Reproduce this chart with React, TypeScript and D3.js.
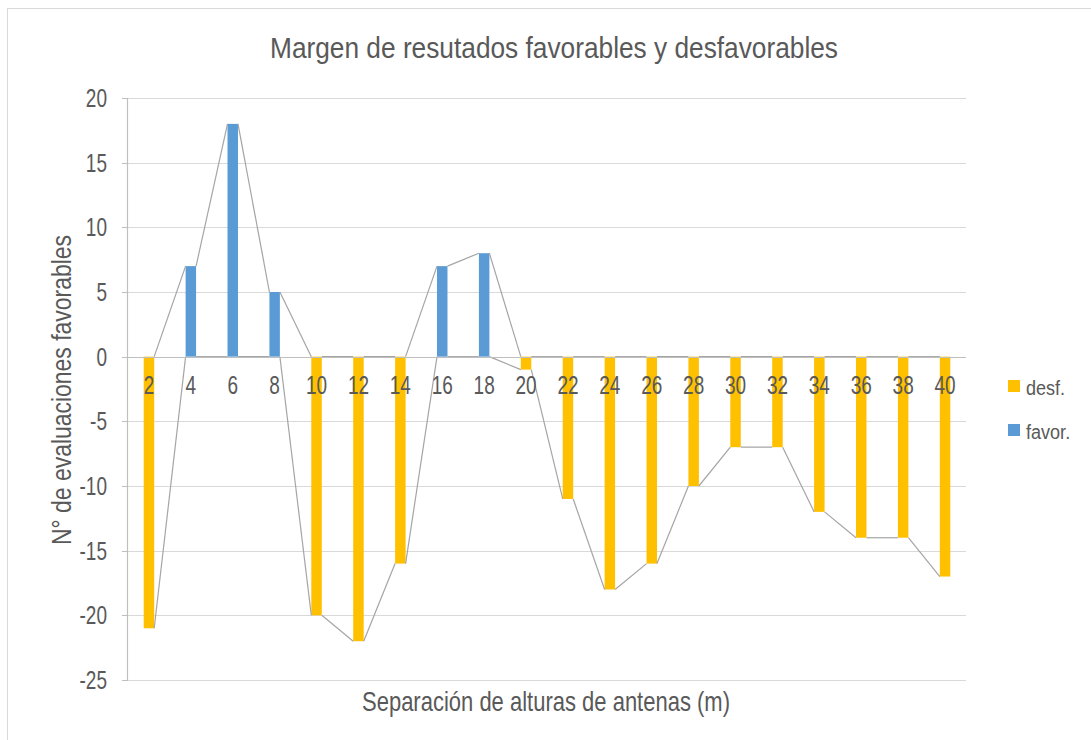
import React from "react";
import * as d3 from "d3";

const categories = ["2","4","6","8","10","12","14","16","18","20","22","24","26","28","30","32","34","36","38","40"];
const desfValues = [-21, 0, 0, 0, -20, -22, -16, 0, 0, -1, -11, -18, -16, -10, -7, -7, -12, -14, -14, -17];
const favorValues = [0, 7, 18, 5, 0, 0, 0, 7, 8, 0, 0, 0, 0, 0, 0, 0, 0, 0, 0, 0];
const yTicks = [20, 15, 10, 5, 0, -5, -10, -15, -20, -25];
const seriesNames = ["desf.", "favor."];
const seriesColors = ["#FFC000", "#5B9BD5"];
const title = "Margen de resutados favorables y desfavorables";
const xTitle = "Separación de alturas de antenas (m)";
const yTitle = "N° de evaluaciones favorables";

const W = 1091, H = 740;
const left = 128, right = 966, top = 98, bottom = 680;
const FONT = "'Liberation Sans', Arial, sans-serif";
const TXT = "#595959";

function T(props: any) {
  const { x, y, anchor = "start", size, sx = 1, rot = 0, children, len } = props;
  return (
    <g transform={`translate(${x},${y}) rotate(${rot}) scale(${sx},1)`}>
      <text textAnchor={anchor} fontSize={size} fill={TXT} fontFamily={FONT}
        {...(len ? { textLength: len, lengthAdjust: "spacingAndGlyphs" } : {})}>{children}</text>
    </g>
  );
}

export default function App() {
  const x = d3.scaleBand<string>().domain(categories).range([left, right]).padding(0);
  const y = d3.scaleLinear().domain([-25, 20]).range([bottom, top]);
  const bw = x.bandwidth() * 0.25;
  const cx = (c: string) => (x(c) as number) + x.bandwidth() / 2;
  const series = [desfValues, favorValues];

  return (
    <svg width={W} height={H} style={{ position: "absolute", left: 0, top: 0, background: "#fff" }}>
      <rect x={0} y={0} width={W} height={H} fill="#fff" />
      <rect x={7.5} y={8.5} width={W + 20} height={H + 20} fill="none" stroke="#d9d9d9" strokeWidth={1} />
      <T x={554} y={58} anchor="middle" size={29} len={568}>{title}</T>
      {yTicks.map((t) => (
        <line key={"g" + t} x1={left} x2={right} y1={Math.round(y(t)) + 0.5} y2={Math.round(y(t)) + 0.5} stroke="#d9d9d9" strokeWidth={1} />
      ))}
      {series.map((vals, si) =>
        vals.map((v, i) => (
          <rect key={si + "-" + i} x={cx(categories[i]) - bw / 2} width={bw}
            y={Math.min(y(v), y(0))} height={Math.abs(y(v) - y(0))} fill={seriesColors[si]} />
        ))
      )}
      {series.map((vals, si) =>
        vals.slice(0, -1).map((v, i) => (
          <line key={"s" + si + "-" + i} x1={cx(categories[i]) + bw / 2} y1={y(v)}
            x2={cx(categories[i + 1]) - bw / 2} y2={y(vals[i + 1])} stroke="#a5a5a5" strokeWidth={1.2} />
        ))
      )}
      <line x1={left} x2={right} y1={Math.round(y(0)) + 0.5} y2={Math.round(y(0)) + 0.5} stroke="#bfbfbf" strokeWidth={1.2} />
      <line x1={left - 0.5} x2={left - 0.5} y1={top} y2={bottom} stroke="#bfbfbf" strokeWidth={1.2} />
      {yTicks.map((t) => (
        <line key={"t" + t} x1={left - 6} x2={left} y1={Math.round(y(t)) + 0.5} y2={Math.round(y(t)) + 0.5} stroke="#bfbfbf" strokeWidth={1} />
      ))}
      {yTicks.map((t) => (
        <T key={"yl" + t} x={107} y={y(t) + 9} anchor="end" size={25} sx={0.76}>{String(t)}</T>
      ))}
      {categories.map((c) => (
        <T key={"xl" + c} x={cx(c)} y={394} anchor="middle" size={25} sx={0.76}>{c}</T>
      ))}
      <T x={546} y={711} anchor="middle" size={28} len={368}>{xTitle}</T>
      <T x={71} y={390} anchor="middle" size={27} rot={-90} len={310}>{yTitle}</T>
      {seriesNames.map((n, i) => (
        <g key={n}>
          <rect x={1008} y={380 + i * 44} width={12} height={12} fill={seriesColors[i]} />
          <T x={1026} y={395 + i * 44} size={21} sx={0.86}>{n}</T>
        </g>
      ))}
    </svg>
  );
}
